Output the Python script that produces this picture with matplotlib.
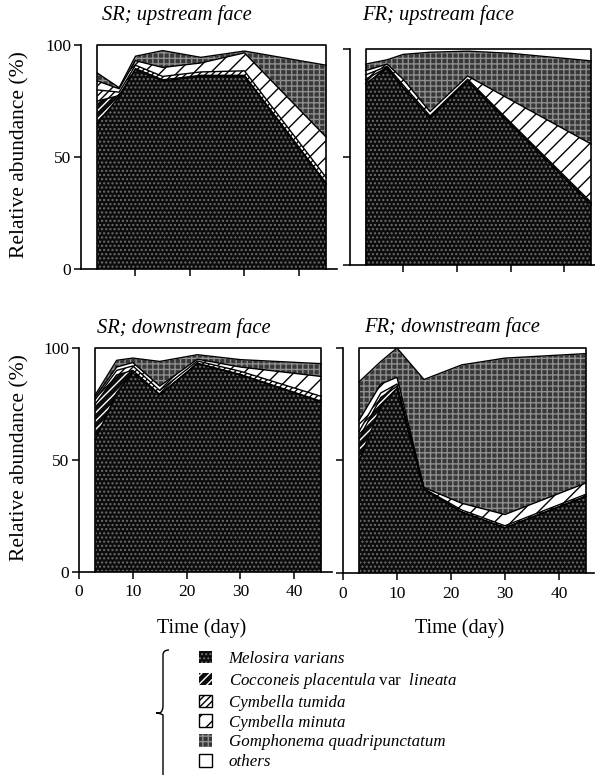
import numpy as np
import matplotlib
matplotlib.use("Agg")
import matplotlib.pyplot as plt
from matplotlib.patches import Patch, PathPatch
from matplotlib.path import Path

plt.rcParams['font.family'] = ['Liberation Serif', 'DejaVu Serif']
plt.rcParams['mathtext.fontset'] = 'custom'
plt.rcParams['mathtext.rm'] = 'Liberation Serif'
plt.rcParams['mathtext.it'] = 'Liberation Serif:italic'
plt.rcParams['hatch.linewidth'] = 1.0

# sampling days
days = [3, 7, 10, 15, 22, 30, 45]

taxa = ['Melosira varians',
        r'Cocconeis placentula $\mathrm{var}$  lineata',
        'Cymbella tumida',
        'Cymbella minuta',
        'Gomphonema quadripunctatum',
        'others']

# relative abundance (%) per taxon, rows: Melosira, Cocconeis, C. tumida,
# C. minuta, Gomphonema ; "others" is the remainder up to 100
sr_up = [[65, 77, 89, 84, 86, 86, 38],
         [10, 0.5, 0.5, 0.5, 0.5, 0.5, 0.5],
         [5, 1.5, 1.5, 1.5, 1.5, 2, 2.5],
         [4, 1.5, 2, 4, 4, 8, 18],
         [3.5, 0.5, 2, 7.5, 2.5, 0.8, 32]]

fr_up = [[84, 91, 82, 68, 85, 65, 28],
         [2, 0.5, 0.3, 0.2, 0.2, 0.2, 0.2],
         [2, 0.5, 1, 0.8, 0.8, 0.8, 0.8],
         [2, 1, 2.7, 2, 1.5, 10.5, 27],
         [3, 2, 11.5, 27.5, 11.5, 21.5, 38.5]]

sr_down = [[59, 80, 89, 79, 93, 88, 76],
           [16, 8, 1, 0.3, 0.2, 0.2, 0.2],
           [2, 2, 2, 1.7, 1, 1.4, 2.2],
           [1, 1.5, 1.5, 2, 0.8, 1.9, 8.9],
           [1, 3, 2, 11, 2, 3.3, 5.7]]

fr_down = [[50, 74, 82, 37, 27, 20, 34],
           [10, 4, 1, 0.2, 0.2, 0.2, 0.2],
           [3, 2, 1, 0.3, 0.8, 0.8, 0.8],
           [5, 4, 3, 0.5, 3, 5, 5],
           [17, 10, 13, 48, 61.5, 69.5, 57.5]]

face = ['#0c0c0c', '#0c0c0c', 'white', 'white', '#383838', 'white']
hcol = ['#6e6e6e', 'white', 'black', 'black', '#8e8e8e', 'white']
hatches = ['....', '////', '/////', '//', '+++', None]

W, H = 595, 775
fig = plt.figure(figsize=(W / 100, H / 100), dpi=100)


def add_ax(left, top, right, bottom):
    return fig.add_axes([left / W, 1 - bottom / H, (right - left) / W,
                         (bottom - top) / H])


def panel(ax, pct, xmax, title, tx, ty, ylabels, xlabels):
    pct = np.array(pct, dtype=float)
    pct = np.vstack([pct, 100 - pct.sum(axis=0)])
    cum = np.cumsum(pct, axis=0)
    lower = np.zeros(len(days))
    for k in range(len(cum)):
        ax.fill_between(days, lower, cum[k], facecolor=face[k],
                        edgecolor=hcol[k], hatch=hatches[k], linewidth=0)
        lower = cum[k]
    for k in range(len(cum) - 1):
        ax.plot(days, cum[k], color='black', lw=1.0)
    ax.plot([days[0], days[0], days[-1], days[-1]], [0, 100, 100, 0],
            color='black', lw=1.2, clip_on=False)
    ax.set_xlim(0, xmax)
    ax.set_ylim(0, 100)
    for s in ['top', 'right']:
        ax.spines[s].set_visible(False)
    ax.spines['left'].set_linewidth(1.2)
    ax.spines['bottom'].set_linewidth(1.2)
    ax.set_yticks([0, 50, 100])
    ax.tick_params(direction='out', length=5, width=1.1, labelsize=12.5, pad=2)
    if xlabels:
        ax.set_xticks([0, 10, 20, 30, 40])
        ax.tick_params(axis='x', pad=4)
    else:
        ax.set_xticks([10, 20, 30, 40])
        ax.set_xticklabels([])
    if not ylabels:
        ax.set_yticklabels([])
    fig.text(tx / W, 1 - ty / H, title, style='italic', fontsize=14.8,
             ha='left', va='center')


ax1 = add_ax(81, 45, 337, 269.5)
panel(ax1, sr_up, 47, 'SR; upstream face', 102, 15, True, False)
ax2 = add_ax(349.5, 49, 596.5, 265)
panel(ax2, fr_up, 46, 'FR; upstream face', 362, 15, False, False)
ax3 = add_ax(79, 348, 332, 572)
panel(ax3, sr_down, 47, 'SR; downstream face', 97, 328, True, True)
ax4 = add_ax(343, 348, 594, 573)
panel(ax4, fr_down, 46.5, 'FR; downstream face', 364, 327, False, True)

for yc in [155, 458]:
    fig.text(20 / W, 1 - yc / H, 'Relative abundance (%)', rotation=90,
             fontsize=15.5, ha='center', va='center')
for xc in [202, 460]:
    fig.text(xc / W, 1 - 628 / H, 'Time (day)', fontsize=14.5,
             ha='center', va='center')

handles = []
for k in range(len(taxa)):
    if face[k] == 'white':
        handles.append(Patch(facecolor='white', edgecolor='black',
                             hatch=hatches[k], linewidth=1.0))
    else:
        handles.append(Patch(facecolor=face[k], edgecolor=hcol[k],
                             hatch=hatches[k], linewidth=0))
leg = fig.legend(handles, taxa, loc='upper left',
                 bbox_to_anchor=(199 / W, 1 - 651 / H), frameon=False,
                 prop={'style': 'italic', 'size': 12.2}, handlelength=0.75,
                 handleheight=0.75, handletextpad=1.0, labelspacing=0.22,
                 borderpad=0, borderaxespad=0)

# curly brace in front of the legend
bx = [169, 163, 163, 163, 163, 163, 160, 156, 160, 163, 163, 163, 163, 163,
      169]
by = [650, 650, 655, 661, 706, 711, 713, 713, 713, 715, 720, 765, 771, 776,
      776]
codes = [Path.MOVETO, Path.CURVE3, Path.CURVE3, Path.LINETO, Path.LINETO,
         Path.CURVE3, Path.CURVE3, Path.LINETO, Path.CURVE3, Path.CURVE3,
         Path.LINETO, Path.LINETO, Path.CURVE3, Path.CURVE3, Path.LINETO]
verts = [(x / W, 1 - y / H) for x, y in zip(bx, by)]
fig.add_artist(PathPatch(Path(verts, codes), facecolor='none',
                         edgecolor='black', lw=1.0,
                         transform=fig.transFigure))

fig.savefig('out.png', dpi=100)
